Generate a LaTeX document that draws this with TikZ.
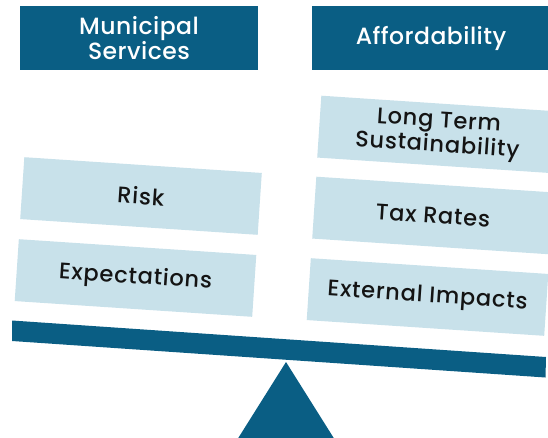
\documentclass[tikz,border=0pt]{standalone}
\usepackage{fontspec}
\setmainfont{Poppins}[UprightFont=* Medium]
\usepackage{tikz}

\definecolor{seesaw}{HTML}{0A5E84}
\definecolor{weight}{HTML}{C8E1EA}

\tikzset{
  header/.style={fill=seesaw, text=white, minimum width=238, minimum height=64,
    align=center, inner sep=0pt,
    font=\fontsize{23.5}{24}\selectfont\addfontfeatures{LetterSpace=2}},
  item/.style={fill=weight, text=black!92, minimum width=238, minimum height=62,
    align=center, inner sep=0pt, rotate=-3.8,
    font=\fontsize{22.5}{24.5}\selectfont\addfontfeatures{LetterSpace=3.5}}
}

\begin{document}
\begin{tikzpicture}[x=1pt,y=-1pt]
  \useasboundingbox (0,0) rectangle (548,437);
  \clip (0,0) rectangle (548,437);

  % headers
  \node (services) [header] at (139,38) {Municipal\\Services};
  \node (afford) [header] at (431,38) {Affordability};

  % left side weights
  \node (risk) [item] at (141,196) {Risk};
  \node (expect) [item] at (135.5,278) {Expectations};

  % right side weights
  \node (longterm) [item] at (438,134.5) {Long Term\\Sustainability};
  \node (tax) [item] at (433,215.5) {Tax Rates};
  \node (external) [item] at (427.5,297) {External Impacts};

  % beam and pivot
  \fill[seesaw] (12,320.5) -- (546,357) -- (545.5,377.5) -- (12,341) -- cycle;
  \fill[seesaw] (286,362) -- (335,440) -- (237,440) -- cycle;
\end{tikzpicture}
\end{document}
